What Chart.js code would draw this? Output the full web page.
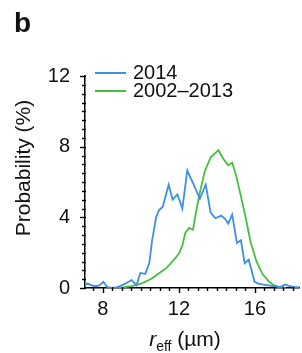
<!DOCTYPE html>
<html>
<head>
<meta charset="utf-8">
<script src="https://cdn.jsdelivr.net/npm/chart.js@4/dist/chart.umd.min.js"></script>
<style>
  html, body { margin: 0; padding: 0; background: #fff; }
  #wrap { position: relative; width: 302px; height: 353px; overflow: hidden; font-family: "Liberation Sans", Arial, Helvetica, sans-serif; color: #111; }
  #c { position: absolute; left: 0; top: 0; }
  .panel { position: absolute; left: 14px; top: 7px; font-size: 28px; font-weight: bold; }
  .ytitle { position: absolute; left: 23px; top: 168px; transform: translate(-50%, -50%) rotate(-90deg); white-space: nowrap; font-size: 21px; }
  .xtitle { position: absolute; left: 185px; top: 340px; transform: translate(-50%, -50%); white-space: nowrap; font-size: 21px; }
  .xtitle sub { font-size: 14px; vertical-align: -5px; }
  .leg { position: absolute; left: 95px; font-size: 20px; line-height: 20px; white-space: nowrap; }
  .leg span.sw { display: inline-block; width: 31px; height: 2px; vertical-align: middle; margin-right: 7px; position: relative; top: -1px; }
</style>
</head>
<body>
<div id="wrap">
  <canvas id="c" width="302" height="353"></canvas>
  <div class="panel">b</div>
  <div class="ytitle">Probability (%)</div>
  <div class="xtitle"><i>r</i><sub>eff</sub> (µm)</div>
  <div id="legend"></div>
</div>
<script>
// ---- data ----
const seriesLabels = ["2014", "2002–2013"];
const blueX = [6.95, 7.2, 7.41, 7.62, 7.82, 8.03, 8.23, 8.49, 8.74, 9.0, 9.26, 9.51, 9.77, 9.97, 10.23, 10.44, 10.59, 10.8, 10.95, 11.15, 11.46, 11.67, 11.92, 12.18, 12.44, 12.8, 13.1, 13.41, 13.67, 13.92, 14.23, 14.44, 14.59, 14.8, 15.05, 15.26, 15.46, 15.67, 15.82, 15.98, 16.18, 16.39, 16.7, 17.0, 17.31, 17.62, 17.82, 18.13, 18.44];
const blueY = [0.15, 0.25, 0.15, 0.1, 0.15, 0.35, 0.05, 0.0, 0.05, 0.15, 0.3, 0.45, 0.15, 0.85, 0.8, 1.4, 2.7, 4.0, 4.4, 4.6, 5.85, 5.0, 5.3, 4.5, 6.65, 5.8, 5.05, 5.85, 4.25, 3.95, 4.1, 3.9, 3.65, 4.15, 2.55, 2.7, 1.4, 1.6, 1.0, 0.35, 0.25, 0.2, 0.15, 0.1, 0.05, 0.2, 0.1, 0.05, 0.05];
const greenX = [8.39, 9.0, 9.51, 9.77, 10.08, 10.33, 10.59, 10.85, 11.1, 11.36, 11.57, 11.82, 12.03, 12.18, 12.33, 12.54, 12.74, 12.95, 13.1, 13.36, 13.67, 14.08, 14.34, 14.59, 14.8, 15.0, 15.26, 15.52, 15.77, 16.08, 16.39, 16.7, 17.0, 17.31, 17.62];
const greenY = [0.0, 0.02, 0.1, 0.17, 0.28, 0.4, 0.55, 0.75, 0.95, 1.15, 1.4, 1.7, 2.0, 2.4, 3.1, 3.4, 3.3, 4.6, 5.4, 6.6, 7.4, 7.8, 7.3, 6.95, 7.1, 6.4, 5.2, 3.95, 2.6, 1.5, 0.8, 0.4, 0.15, 0.05, 0.0];
const xMajorTicks = [8, 12, 16];
const yMajorTicks = [0, 4, 8, 12];
const seriesColors = ["#3d8fe0", "#45bf3e"];

const toPts = (xs, ys) => xs.map((x, i) => ({ x: x, y: ys[i] }));

// legend
const legend = document.getElementById('legend');
seriesLabels.forEach((lab, i) => {
  const d = document.createElement('div');
  d.className = 'leg';
  d.style.top = (62 + i * 18) + 'px';
  d.innerHTML = '<span class="sw" style="background:' + seriesColors[i] + '"></span>' + lab;
  legend.appendChild(d);
});

const tickPlugin = {
  id: 'customTicks',
  afterDraw(chart) {
    const ctx = chart.ctx;
    const xs = chart.scales.x, ys = chart.scales.y;
    ctx.save();
    ctx.strokeStyle = '#000';
    ctx.lineWidth = 1.4;
    ys.ticks.forEach(t => {
      const p = Math.round(ys.getPixelForValue(t.value)) + 0.5;
      const major = yMajorTicks.includes(t.value);
      const len = major ? 5 : 3;
      ctx.beginPath();
      ctx.moveTo(ys.right - len, p);
      ctx.lineTo(ys.right + 1, p);
      ctx.stroke();
    });
    xs.ticks.forEach(t => {
      const p = Math.round(xs.getPixelForValue(t.value)) + 0.5;
      const major = xMajorTicks.includes(t.value);
      const len = major ? 5 : 3;
      ctx.beginPath();
      ctx.moveTo(p, xs.top - 1);
      ctx.lineTo(p, xs.top + len);
      ctx.stroke();
    });
    ctx.restore();
  }
};

new Chart(document.getElementById('c'), {
  type: 'line',
  data: {
    datasets: [
      { label: seriesLabels[0], data: toPts(blueX, blueY), borderColor: seriesColors[0], borderWidth: 1.8, pointRadius: 0, tension: 0, fill: false },
      { label: seriesLabels[1], data: toPts(greenX, greenY), borderColor: seriesColors[1], borderWidth: 1.8, pointRadius: 0, tension: 0, fill: false }
    ]
  },
  options: {
    responsive: false,
    animation: false,
    devicePixelRatio: 1,
    layout: { padding: { top: 76, right: 0, left: 0, bottom: 0 } },
    plugins: { legend: { display: false }, tooltip: { enabled: false } },
    scales: {
      x: {
        type: 'linear',
        min: 7.06, max: 18.34,
        afterFit: s => { s.height = 65; },
        border: { display: true, color: '#000', width: 1.5 },
        grid: { display: true, drawOnChartArea: false, drawTicks: false },
        ticks: {
          stepSize: 0.5, includeBounds: false, autoSkip: false, maxRotation: 0,
          padding: 9, color: '#111',
          font: { family: '"Liberation Sans", Arial, sans-serif', size: 20 },
          callback: v => xMajorTicks.includes(v) ? String(v) : ''
        }
      },
      y: {
        type: 'linear',
        min: 0, max: 12,
        afterFit: s => { s.width = 85; },
        border: { display: true, color: '#000', width: 1.5 },
        grid: { display: true, drawOnChartArea: false, drawTicks: false },
        ticks: {
          stepSize: 0.5, includeBounds: false, autoSkip: false,
          padding: 15, color: '#111',
          font: { family: '"Liberation Sans", Arial, sans-serif', size: 20 },
          callback: v => yMajorTicks.includes(v) ? String(v) : ''
        }
      }
    }
  },
  plugins: [tickPlugin]
});
</script>
</body>
</html>
